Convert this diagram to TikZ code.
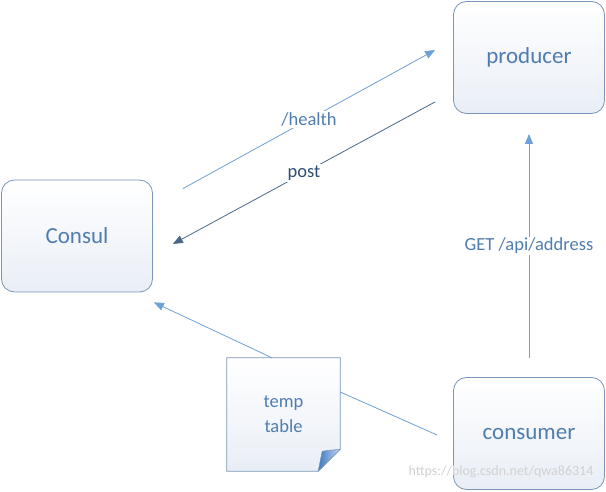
\documentclass[tikz,border=0pt]{standalone}
\usepackage{fontspec}
\setmainfont{Carlito}
\usetikzlibrary{arrows.meta}
\definecolor{boxline}{HTML}{7896B8}
\definecolor{boxfillA}{HTML}{FFFFFF}
\definecolor{boxfillB}{HTML}{E9EEF6}
\definecolor{txtblue}{HTML}{4F7DB0}
\definecolor{arrowblue}{HTML}{6FA0D6}
\definecolor{postline}{HTML}{4A6788}
\definecolor{posttxt}{HTML}{2E4E73}
\definecolor{foldA}{HTML}{3F78C0}
\definecolor{foldB}{HTML}{C5D8F0}
\tikzset{
  procbox/.style={draw=boxline, line width=0.8pt, rounded corners=13pt,
    top color=boxfillA, bottom color=boxfillB,
    minimum width=151pt, minimum height=112pt, inner sep=0pt,
    text=txtblue, font=\fontsize{23}{27}\selectfont},
  flow/.style={draw=arrowblue, line width=0.8pt, -{Triangle[length=10pt,width=8pt]}},
  lbl/.style={fill=white, inner sep=1.5pt, text=txtblue, font=\fontsize{18.5}{22}\selectfont}
}
\begin{document}
\begin{tikzpicture}[x=1pt,y=-1pt]
\useasboundingbox (0,0) rectangle (606,492);
\node[procbox] (producer) at (529,57.5) {producer};
\node[procbox] (consul) at (77,236) {Consul};
\node[procbox] (consumer) at (529,433.5) {consumer};
\node[minimum width=113pt, minimum height=113pt, inner sep=0pt] (tmp) at (283.5,414.5) {};
% note outline
\path[draw=boxline, line width=0.8pt, top color=boxfillA, bottom color=boxfillB]
  (tmp.north west) -- (tmp.north east) -- ([shift={(0,-22)}]tmp.south east)
  -- ([shift={(-22,0)}]tmp.south east) -- (tmp.south west) -- cycle;
\path[left color=foldA, right color=foldB, draw=boxline, line width=0.5pt]
  ([shift={(-22,0)}]tmp.south east) .. controls ([shift={(-20,-10)}]tmp.south east) .. ([shift={(-18,-20)}]tmp.south east)
  .. controls ([shift={(-10,-21)}]tmp.south east) .. ([shift={(0,-22)}]tmp.south east) -- cycle;
\node[align=center, text=txtblue, font=\fontsize{18.5}{25}\selectfont] (tmptext) at (tmp.center) {temp\\table};
% connectors
\draw[flow] ([shift={(30,9)}]consul.north east) -- node[lbl] (hl) {/health} ([shift={(-18,-7.5)}]producer.west);
\draw[flow, draw=postline] ([shift={(-18,-12)}]producer.south west) -- node[lbl, text=posttxt] (pl) {post} ([shift={(20,8)}]consul.east);
\draw[flow] ([shift={(0,-19)}]consumer.north) -- node[lbl] (gl) {GET /api/address} ([shift={(0,20)}]producer.south);
\draw[flow] ([shift={(-11.5,0)}]tmp.north) -- ([shift={(1,10)}]consul.south east);
\draw[draw=arrowblue, line width=0.8pt] ([shift={(0,-22.5)}]tmp.east) -- ([shift={(-16,1.5)}]consumer.west);
\node[text=black!18, font=\fontsize{14}{16}\selectfont, anchor=east] (wm) at (597,472) {https://blog.csdn.net/qwa86314};
\end{tikzpicture}
\end{document}
